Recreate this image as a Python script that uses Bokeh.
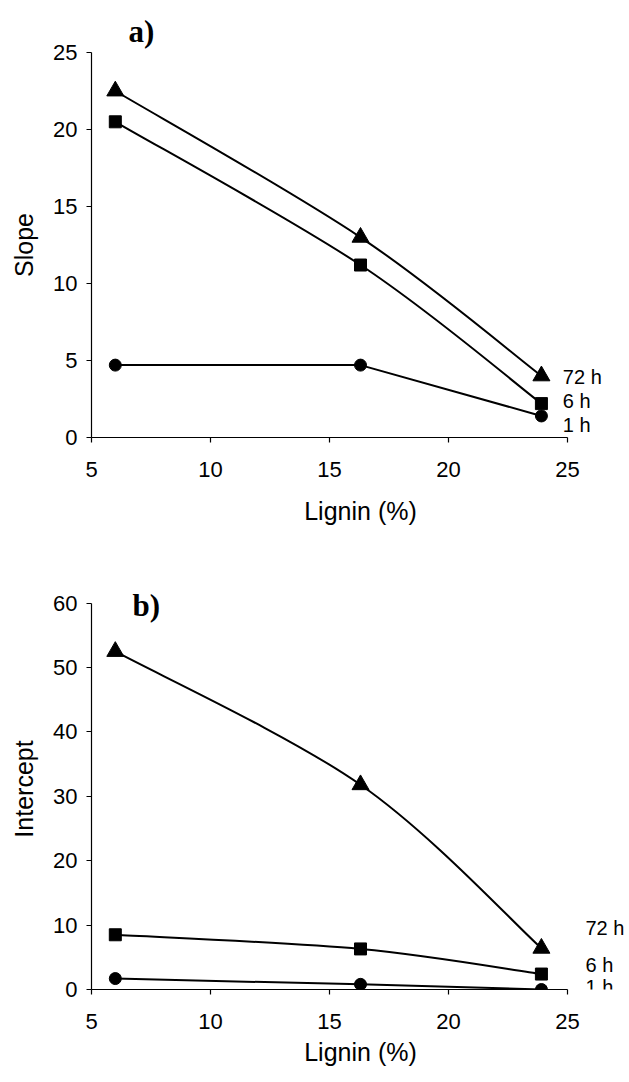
from bokeh.plotting import figure
from bokeh.layouts import column
from bokeh.models import Range1d, FixedTicker, Title, Label
from bokeh.core.properties import value
from bokeh.embed import file_html
from bokeh.resources import INLINE

# Lignin content of the samples (%)
lignin = [6.0, 16.3, 23.9]

# a) slope of the fitted relation at each incubation time
slope_72h = [22.5, 13.0, 4.0]
slope_6h = [20.5, 11.2, 2.2]
slope_1h = [4.7, 4.7, 1.4]

# b) intercept of the fitted relation at each incubation time
intercept_72h = [52.5, 31.8, 6.4]
intercept_6h = [8.5, 6.3, 2.4]
intercept_1h = [1.7, 0.8, 0.0]

series_names = ["72 h", "6 h", "1 h"]

SANS = "Liberation Sans"
SERIF = "Liberation Serif"


def smooth_line(p, xs, ys):
    """Draw a smoothed (Catmull-Rom style) line through the points as bezier segments."""
    n = len(xs)
    x0, y0, x1, y1, cx0, cy0, cx1, cy1 = ([] for _ in range(8))
    for i in range(n - 1):
        ip = max(i - 1, 0)
        inx = min(i + 2, n - 1)
        x0.append(xs[i]); y0.append(ys[i])
        x1.append(xs[i + 1]); y1.append(ys[i + 1])
        cx0.append(xs[i] + (xs[i + 1] - xs[ip]) / 6.0)
        cy0.append(ys[i] + (ys[i + 1] - ys[ip]) / 6.0)
        cx1.append(xs[i + 1] - (xs[inx] - xs[i]) / 6.0)
        cy1.append(ys[i + 1] - (ys[inx] - ys[i]) / 6.0)
    p.bezier(x0=x0, y0=y0, x1=x1, y1=y1, cx0=cx0, cy0=cy0, cx1=cx1, cy1=cy1,
             line_color="black", line_width=2)


def make_panel(height, border_top, border_bottom, y_max, y_top, y_ticks,
               y_label, x_label_standoff):
    # the frame runs to the right edge so the series names fit inside it;
    # the axes themselves stop at their bounds
    p = figure(width=629, height=height, output_backend="svg",
               toolbar_location=None,
               x_range=Range1d(5, 27.6), y_range=Range1d(0, y_top),
               min_border_left=91, min_border_right=0,
               min_border_top=border_top, min_border_bottom=border_bottom)
    p.outline_line_color = None
    p.grid.grid_line_color = None
    p.background_fill_color = "white"
    p.border_fill_color = "white"

    p.xaxis.ticker = FixedTicker(ticks=[5, 10, 15, 20, 25])
    p.yaxis.ticker = FixedTicker(ticks=y_ticks)
    p.xaxis.bounds = (5, 25)
    p.yaxis.bounds = (0, y_max)
    p.xaxis.axis_label = "Lignin (%)"
    p.yaxis.axis_label = y_label
    for ax in (p.xaxis, p.yaxis):
        ax.axis_line_color = "black"
        ax.axis_line_width = 1.2
        ax.major_tick_line_color = "black"
        ax.major_tick_line_width = 1.2
        ax.major_tick_out = 5
        ax.major_tick_in = 0
        ax.minor_tick_line_color = None
        ax.major_label_text_font = SANS
        ax.major_label_text_font_size = "22px"
        ax.major_label_text_color = "black"
        ax.axis_label_text_font = SANS
        ax.axis_label_text_font_size = "25px"
        ax.axis_label_text_font_style = "normal"
        ax.axis_label_text_color = "black"
    p.xaxis.major_label_standoff = 19
    p.yaxis.major_label_standoff = 9
    p.xaxis.axis_label_standoff = x_label_standoff
    p.yaxis.axis_label_standoff = 12
    return p


def add_series(p, s72, s6, s1, label_x, label_ys):
    smooth_line(p, lignin, s72)
    smooth_line(p, lignin, s6)
    p.line(lignin, s1, line_color="black", line_width=2)
    p.scatter(lignin, s72, marker="triangle", size=17, color="black")
    p.scatter(lignin, s6, marker="square", size=12, color="black")
    p.scatter(lignin, s1, marker="circle", size=12, color="black")
    p.text(x=[label_x] * 3, y=label_ys, text=series_names,
           text_font=value(SANS), text_font_size="20px",
           text_baseline="middle", text_align="left", text_color="black")


# panel a: slope (panel letter set above the frame)
pa = make_panel(540, 52, 103, 25, 25, [0, 5, 10, 15, 20, 25], "Slope", 17)
pa.add_layout(Title(text="a)", align="left", offset=37,
                    text_font=SERIF, text_font_style="bold",
                    text_font_size="31px", text_color="black",
                    standoff=8), "above")
add_series(pa, slope_72h, slope_6h, slope_1h, 24.8, [3.9, 2.35, 0.8])

# panel b: intercept (frame reaches a little above 60 to hold the letter)
pb = make_panel(542, 48, 93, 60, 62.28, [0, 10, 20, 30, 40, 50, 60],
                "Intercept", 6)
pb.add_layout(Label(x=7.3, y=59.65, text="b)", text_font=SERIF,
                    text_font_style="bold", text_font_size="31px",
                    text_color="black", text_align="center",
                    text_baseline="middle"))
add_series(pb, intercept_72h, intercept_6h, intercept_1h, 25.75, [9.5, 3.8, 0.35])

layout = column(pa, pb, spacing=0)
open("out.html", "w").write(file_html(layout, INLINE))
